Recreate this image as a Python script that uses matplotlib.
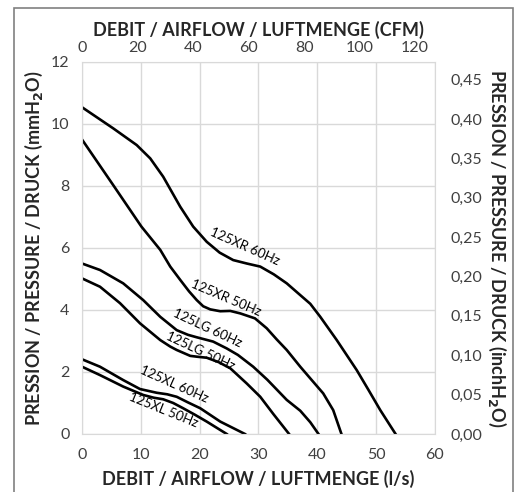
import matplotlib.pyplot as plt
from matplotlib.patches import Rectangle
from matplotlib.ticker import FuncFormatter

plt.rcParams['font.family'] = ['Lato', 'DejaVu Sans']

# courbes : débit (l/s), pression (mmH2O)
xr60_x = [0, 5.3, 9.3, 11.6, 13.8, 16.7, 18.9, 21.2, 23.4, 25.7, 28.0, 30.3, 32.6,
          34.8, 37.1, 38.8, 40.5, 43.3, 46.7, 48.7, 50.7, 53.3]
xr60_y = [10.54, 9.86, 9.32, 8.89, 8.3, 7.33, 6.69, 6.2, 5.85, 5.61, 5.5, 5.4, 5.15,
          4.86, 4.48, 4.2, 3.78, 3.03, 2.06, 1.42, 0.77, 0]
xr50_x = [0, 5.3, 10.1, 13.3, 15.0, 16.7, 18.2, 19.5, 20.6, 21.8, 23.5, 25.2, 26.9,
          29.4, 31.4, 33.1, 34.8, 37.1, 39.0, 41.0, 42.7, 44.1]
xr50_y = [9.5, 8.03, 6.69, 5.94, 5.4, 4.97, 4.6, 4.32, 4.12, 4.02, 3.96, 3.97, 3.89,
          3.73, 3.41, 3.05, 2.71, 2.17, 1.75, 1.31, 0.77, 0]
lg60_x = [0, 3.06, 7.0, 10.4, 13.3, 16.1, 18.0, 19.5, 22.3, 24.6, 26.5, 29.1, 31.5,
          34.8, 37.1, 38.8, 40.2]
lg60_y = [5.5, 5.29, 4.86, 4.32, 3.78, 3.35, 3.2, 3.12, 2.98, 2.76, 2.55, 2.17, 1.75,
          1.1, 0.75, 0.38, 0]
lg50_x = [0, 3.06, 6.46, 9.86, 13.3, 15.0, 16.1, 18.4, 19.7, 21.2, 23.2, 25.2, 28.0,
          30.3, 32.5, 35.2]
lg50_y = [5.02, 4.75, 4.22, 3.57, 3.03, 2.82, 2.71, 2.52, 2.49, 2.46, 2.32, 2.12,
          1.63, 1.2, 0.65, 0]
xl60_x = [0, 3.06, 7.0, 9.86, 12.7, 14.5, 16.1, 18.0, 20.1, 23.5, 27.7]
xl60_y = [2.41, 2.17, 1.74, 1.45, 1.33, 1.28, 1.2, 1.02, 0.83, 0.4, 0]
xl50_x = [0, 3.06, 7.0, 10.4, 12.2, 13.8, 15.5, 17.2, 19.2, 21.2, 24.6]
xl50_y = [2.17, 1.9, 1.53, 1.26, 1.17, 1.12, 1.0, 0.83, 0.62, 0.4, 0]

curves = [
    (xr60_x, xr60_y, '125XR 60Hz', 27.7, 6.04, -24),
    (xr50_x, xr50_y, '125XR 50Hz', 24.4, 4.4, -23),
    (lg60_x, lg60_y, '125LG 60Hz', 21.3, 3.43, -25),
    (lg50_x, lg50_y, '125LG 50Hz', 20.2, 2.68, -25),
    (xl60_x, xl60_y, '125XL 60Hz', 15.6, 1.6, -24),
    (xl50_x, xl50_y, '125XL 50Hz', 13.9, 0.78, -22),
]

LS_TO_CFM = 2.11888
MM_TO_INCH = 1 / 25.4

fig = plt.figure(figsize=(5.27, 4.92), dpi=100)
ax = fig.add_axes([0.1556, 0.1179, 0.6698, 0.7561])

# cadre gris autour
fig.patches.append(Rectangle((14 / 527, -0.05), 499 / 527, 1.05 - 8 / 492,
                             transform=fig.transFigure, fill=False,
                             edgecolor='#808080', lw=1.2))

for xs, ys, lab, lx, ly, rot in curves:
    ax.plot(xs, ys, color='black', lw=1.9, solid_joinstyle='round')
    ax.text(lx, ly, lab, rotation=rot, fontsize=9.5, ha='center', va='center',
            rotation_mode='anchor')

ax.set_xlim(0, 60)
ax.set_ylim(0, 12)
ax.set_xticks(range(0, 61, 10))
ax.set_yticks(range(0, 13, 2))
ax.grid(color='#d9d9d9', lw=1)
for s in ax.spines.values():
    s.set_color('#d9d9d9')
ax.tick_params(axis='x', length=0, labelsize=11.5, colors='#404040', pad=10)
ax.tick_params(axis='y', length=0, labelsize=11.5, colors='#404040', pad=9)
ax.set_xlabel('DEBIT / AIRFLOW / LUFTMENGE (l/s)', fontsize=13,
              fontweight='bold', color='#262626', labelpad=6)
ax.set_ylabel('PRESSION / PRESSURE / DRUCK (mmH$_\\mathbf{2}$O)', fontsize=13,
              fontweight='bold', color='#262626', labelpad=4)

ax_top = ax.twiny()
ax_top.set_xlim(0, 60 * LS_TO_CFM)
ax_top.set_xticks(range(0, 121, 20))
ax_top.tick_params(length=0, labelsize=11.5, colors='#404040', pad=5)
ax_top.set_xlabel('DEBIT / AIRFLOW / LUFTMENGE (CFM)', fontsize=13,
                  fontweight='bold', color='#262626', labelpad=4)

ax_r = ax.twinx()
ax_r.set_ylim(0, 12 * MM_TO_INCH)
ax_r.set_yticks([i * 0.05 for i in range(10)])
ax_r.yaxis.set_major_formatter(FuncFormatter(lambda v, p: f'{v:.2f}'.replace('.', ',')))
ax_r.tick_params(length=0, labelsize=11.5, colors='#404040', pad=11)
ax_r.set_ylabel('PRESSION / PRESSURE / DRUCK (inchH$_\\mathbf{2}$O)', fontsize=13,
                fontweight='bold', color='#262626', rotation=-90, labelpad=19)

for a in (ax_top, ax_r):
    for s in a.spines.values():
        s.set_visible(False)

fig.savefig('out.png', dpi=100)
